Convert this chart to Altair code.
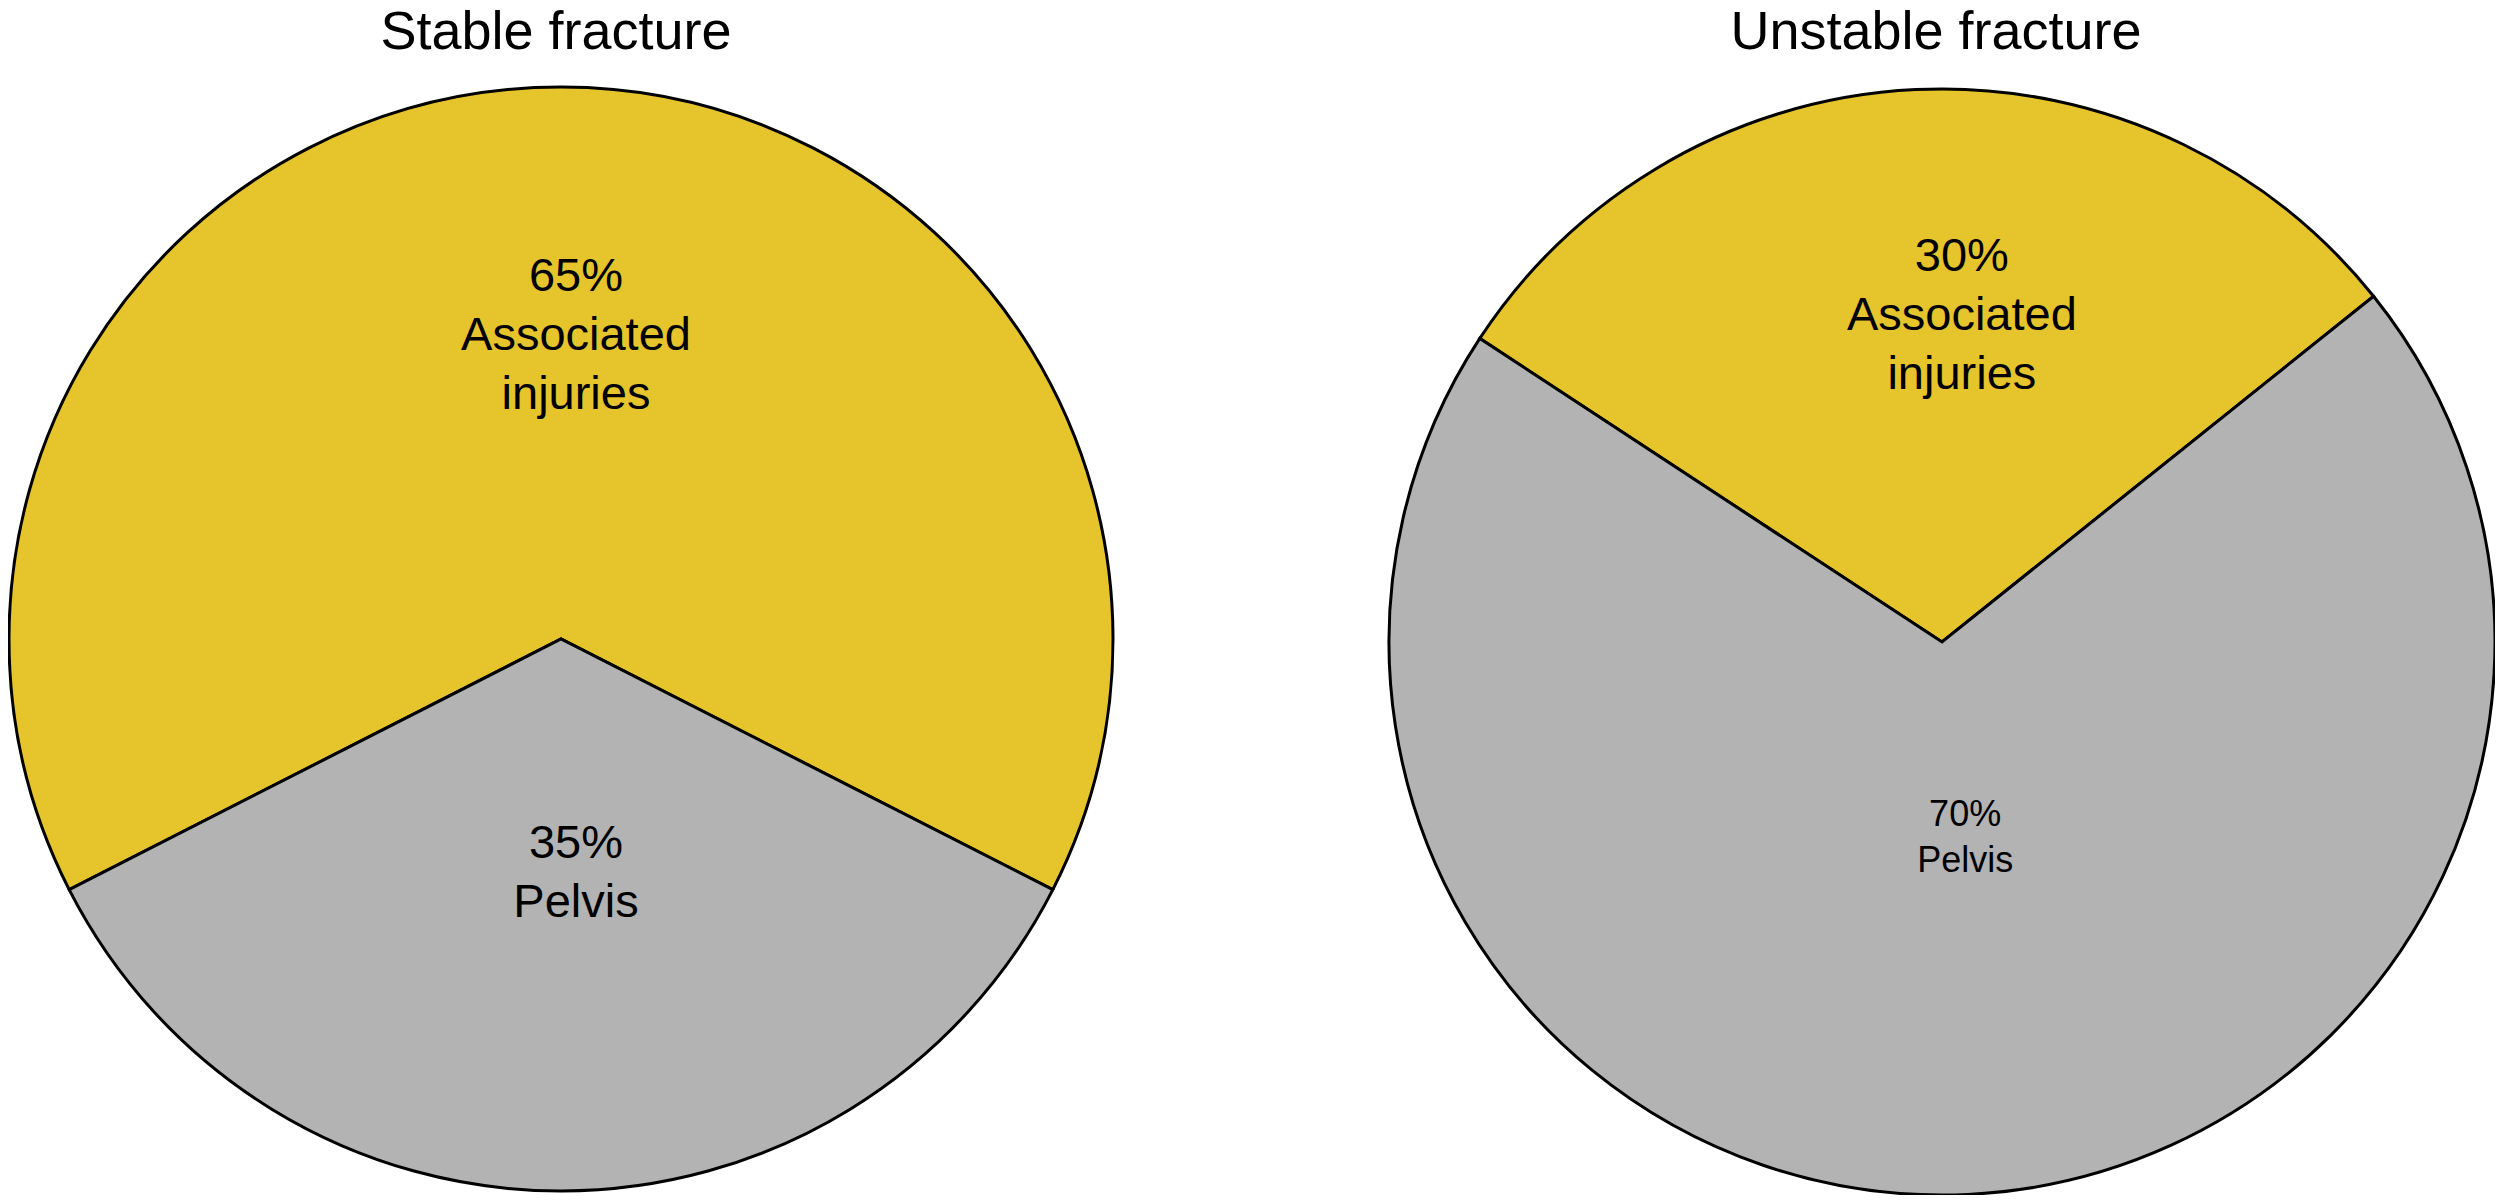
import math
import altair as alt
import pandas as pd

titles = ["Stable fracture", "Unstable fracture"]
parts = ["Associated injuries", "Pelvis"]
part_lines = [["Associated", "injuries"], ["Pelvis"]]
stable_values = [65, 35]
unstable_values = [30, 70]
colors = ["#E6C42B", "#B3B3B3"]

W, H = 2487, 1187
FONT = "Liberation Sans"


def make_df(values):
    return pd.DataFrame({
        "part": parts,
        "idx": list(range(len(parts))),
        "value": values,
        "label": [f"{v}%\n" + "\n".join(lines) for v, lines in zip(values, part_lines)],
    })


def pie(values, title, cx, cy, r, start_deg, title_x, label_specs):
    df = make_df(values)
    a0 = math.radians(start_deg)
    theta_scale = alt.Scale(domain=[0, 100], range=[a0, a0 + 2 * math.pi])
    color = alt.Color("part:N", scale=alt.Scale(domain=parts, range=colors), legend=None)
    base = (
        alt.Chart(df)
        .transform_window(cum="sum(value)", sort=[alt.SortField("idx")])
        .transform_calculate(start="datum.cum - datum.value", mid="datum.cum - datum.value / 2")
    )
    arcs = base.mark_arc(stroke="black", strokeWidth=3, radius=r).encode(
        theta=alt.Theta("start:Q", scale=theta_scale, stack=False),
        theta2="cum:Q",
        color=color,
        x=alt.value(cx),
        y=alt.value(cy),
    )
    layers = [arcs]
    for part, (rad, dx, size, lh) in zip(parts, label_specs):
        t = (
            base.transform_filter(alt.datum.part == part)
            .mark_text(
                radius=rad, dx=dx, fontSize=size, lineHeight=lh, lineBreak="\n",
                font=FONT, align="center", baseline="middle", color="black",
            )
            .encode(
                theta=alt.Theta("mid:Q", scale=theta_scale, stack=False),
                text="label:N",
                x=alt.value(cx),
                y=alt.value(cy),
            )
        )
        layers.append(t)
    ttl = (
        alt.Chart(pd.DataFrame({"t": [title]}))
        .mark_text(fontSize=54, font=FONT, align="center", baseline="alphabetic", color="black")
        .encode(text="t:N", x=alt.value(title_x), y=alt.value(41))
    )
    layers.append(ttl)
    return alt.layer(*layers)


left = pie(stable_values, titles[0], 553, 631, 552, 243, 548,
           [(362, 15, 47, 59), (205, 15, 47, 59)])
right = pie(unstable_values, titles[1], 1934, 634, 553, 303.3, 1928,
            [(385, 38, 47, 59), (173, 15, 36, 46)])

chart = (
    alt.layer(left, right)
    .resolve_scale(theta="independent")
    .properties(width=W, height=H, autosize=alt.AutoSizeParams(type="none"), padding=0,
                background="white")
    .configure_view(strokeWidth=0)
)

chart.save("out.html", embed_options={"renderer": "svg", "actions": False})
